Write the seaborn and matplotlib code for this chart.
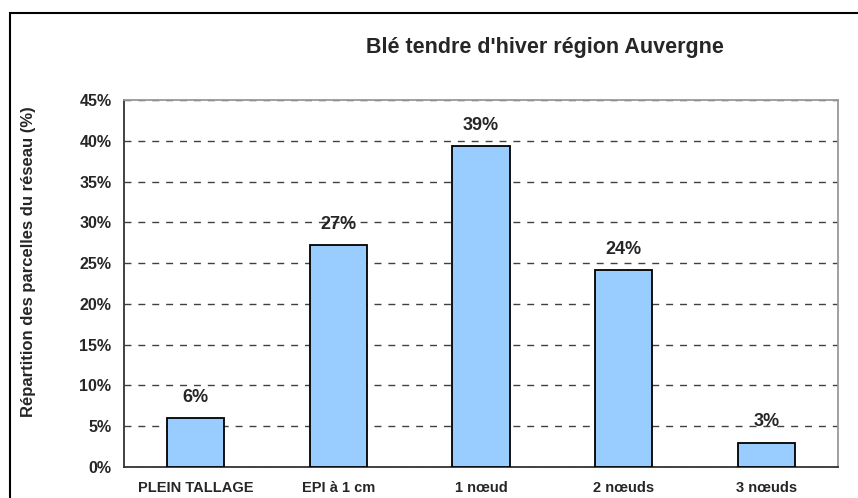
import matplotlib
matplotlib.use("Agg")
import matplotlib.pyplot as plt
import seaborn as sns
import pandas as pd
from matplotlib.patches import Rectangle
from matplotlib.ticker import FixedLocator, MultipleLocator, FuncFormatter

# data
stades = ["PLEIN TALLAGE", "EPI à 1 cm", "1 nœud", "2 nœuds", "3 nœuds"]
parts = [6.0, 27.2, 39.3, 24.1, 3.0]
labels = ["6%", "27%", "39%", "24%", "3%"]

df = pd.DataFrame({"stade": stades, "part": parts})

sns.set_style("white")
plt.rcParams["font.family"] = ["Liberation Sans", "DejaVu Sans"]
plt.rcParams["font.weight"] = "bold"

W, H = 858, 498
fig = plt.figure(figsize=(W / 100, H / 100), dpi=100)
ax = fig.add_axes([124 / W, (H - 467) / H, (838 - 124) / W, (467 - 100) / H])

# outer frame (cut by the image edges)
fig.patches.append(Rectangle((10 / W, -0.1), 1.2, (H - 13) / H + 0.1,
                             transform=fig.transFigure, fill=False,
                             edgecolor="black", linewidth=1.5))

sns.barplot(data=df, x="stade", y="part", ax=ax, color="#99CCFF",
            saturation=1, edgecolor="black", linewidth=1.3, width=0.4, zorder=3)

ax.set_ylim(0, 45)
ax.set_xlim(-0.5, len(stades) - 0.5)
ax.yaxis.set_major_locator(MultipleLocator(5))
ax.yaxis.set_major_formatter(FuncFormatter(lambda v, p: f"{v:.0f}%"))
ax.yaxis.grid(True, linestyle=(0, (5, 5)), color="#404040", linewidth=1, zorder=0)
ax.xaxis.grid(False)

# category boundaries as ticks, labels without tick marks
ax.xaxis.set_minor_locator(FixedLocator([i - 0.5 for i in range(len(stades) + 1)]))
ax.tick_params(axis="x", which="major", length=0, pad=10, labelsize=10.5)
ax.tick_params(axis="x", which="minor", length=6, width=1, color="#333333", direction="out")
ax.tick_params(axis="y", length=6, width=1, color="#333333", direction="out", labelsize=11.5, pad=3)
for t in ax.get_xticklabels() + ax.get_yticklabels():
    t.set_fontweight("bold")

for side in ["left", "bottom"]:
    ax.spines[side].set_color("#333333")
    ax.spines[side].set_linewidth(1.3)
for side in ["top", "right"]:
    ax.spines[side].set_color("#999999")
    ax.spines[side].set_linewidth(1.3)

for i, (v, lab) in enumerate(zip(parts, labels)):
    ax.annotate(lab, (i, v), xytext=(0, 9), textcoords="offset points",
                ha="center", va="bottom", fontsize=13, fontweight="bold")

ax.set_xlabel("")
ax.set_ylabel("Répartition des parcelles du réseau (%)", fontsize=12,
              fontweight="bold", labelpad=0)
ax.yaxis.set_label_coords(-(124 - 36) / (838 - 124), 0.56)

fig.text(545 / W, 1 - 47 / H, "Blé tendre d'hiver région Auvergne",
         ha="center", va="center", fontsize=15.5, fontweight="bold")

fig.savefig("out.png", dpi=100)
